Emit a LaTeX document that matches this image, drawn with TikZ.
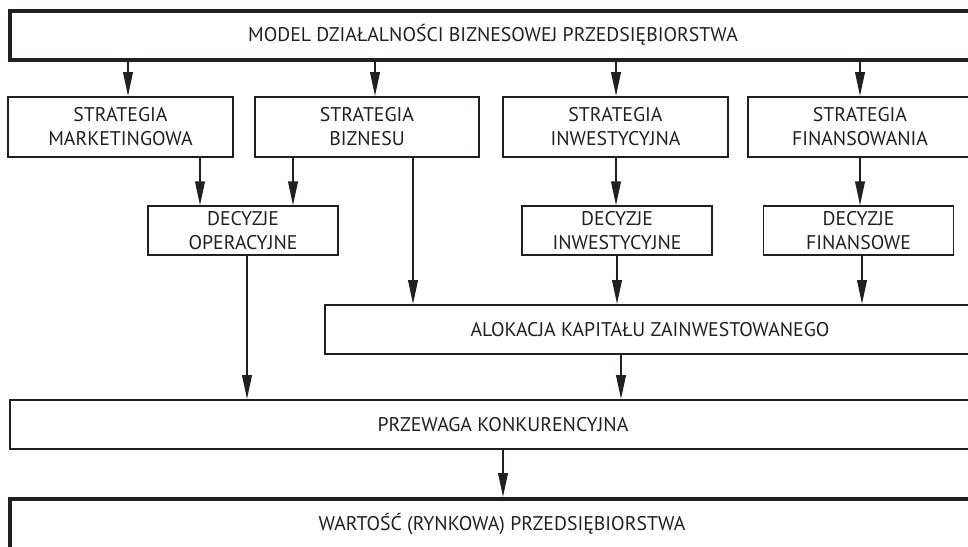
\documentclass[tikz,border=0pt]{standalone}
\usepackage{fontspec}
\setmainfont{PT Sans}
\usetikzlibrary{arrows.meta}
\definecolor{ink}{HTML}{231F20}
\begin{document}
\begin{tikzpicture}[x=0.5pt,y=-0.5pt,
    box/.style={draw=ink,text=ink,line width=0.9pt,rectangle,inner sep=0pt,align=center,
        minimum height=24.5pt,font=\fontsize{9.9}{12}\selectfont},
    grubybox/.style={box,line width=2pt},
    cienkibox/.style={box,line width=0.6pt},
    arr/.style={draw=ink,line width=1pt,-{Triangle[length=12pt,width=4.8pt]}}]
    \useasboundingbox (0,0) rectangle (968,546);

    % model na gorze
    \node[grubybox,minimum width=483pt] (model) at (493,35) {MODEL DZIAŁALNOŚCI BIZNESOWEJ PRZEDSIĘBIORSTWA};

    % strategie
    \node[box,minimum width=112.5pt,minimum height=30pt] (sm) at (120.5,127) {STRATEGIA\\MARKETINGOWA};
    \node[box,minimum width=112pt,minimum height=30pt] (sb) at (367,127) {STRATEGIA\\BIZNESU};
    \node[box,minimum width=112.5pt,minimum height=30pt] (si) at (615.5,127) {STRATEGIA\\INWESTYCYJNA};
    \node[box,minimum width=112pt,minimum height=30pt] (sf) at (860,127) {STRATEGIA\\FINANSOWANIA};

    % decyzje
    \node[cienkibox,minimum width=95pt] (dop) at (243,230.5) {DECYZJE\\OPERACYJNE};
    \node[cienkibox,minimum width=95pt] (din) at (617,230.5) {DECYZJE\\INWESTYCYJNE};
    \node[cienkibox,minimum width=95pt] (dfi) at (858.5,230.5) {DECYZJE\\FINANSOWE};

    \node[box,minimum width=325pt] (alok) at (650,329.5) {ALOKACJA KAPITAŁU ZAINWESTOWANEGO};
    \node[box,minimum width=493pt] (przew) at (503,424.5) {PRZEWAGA KONKURENCYJNA};
    \node[grubybox,minimum width=492pt,minimum height=25pt] (wart) at (502,524) {WARTOŚĆ (RYNKOWA) PRZEDSIĘBIORSTWA};

    % strzalki
    \foreach \n/\x in {sm/128,sb/375,si/616,sf/860}
        \draw[arr] (model.south -| \x,0) -- (\n.north -| \x,0);
    \draw[arr] (sm.south -| 200,0) -- (dop.north -| 200,0);
    \draw[arr] (sb.south -| 293,0) -- (dop.north -| 293,0);
    \draw[arr] (sb.south -| 413,0) -- (alok.north -| 413,0);
    \draw[arr] (si.south -| 616,0) -- (din.north -| 616,0);
    \draw[arr] (sf.south -| 860,0) -- (dfi.north -| 860,0);
    \draw[arr] (din.south -| 617,0) -- (alok.north -| 617,0);
    \draw[arr] (dfi.south -| 862,0) -- (alok.north -| 862,0);
    \draw[arr] (dop.south -| 247,0) -- (przew.north -| 247,0);
    \draw[arr] (alok.south -| 621,0) -- (przew.north -| 621,0);
    \draw[arr] (przew.south -| 503,0) -- (wart.north -| 503,0);
\end{tikzpicture}
\end{document}
